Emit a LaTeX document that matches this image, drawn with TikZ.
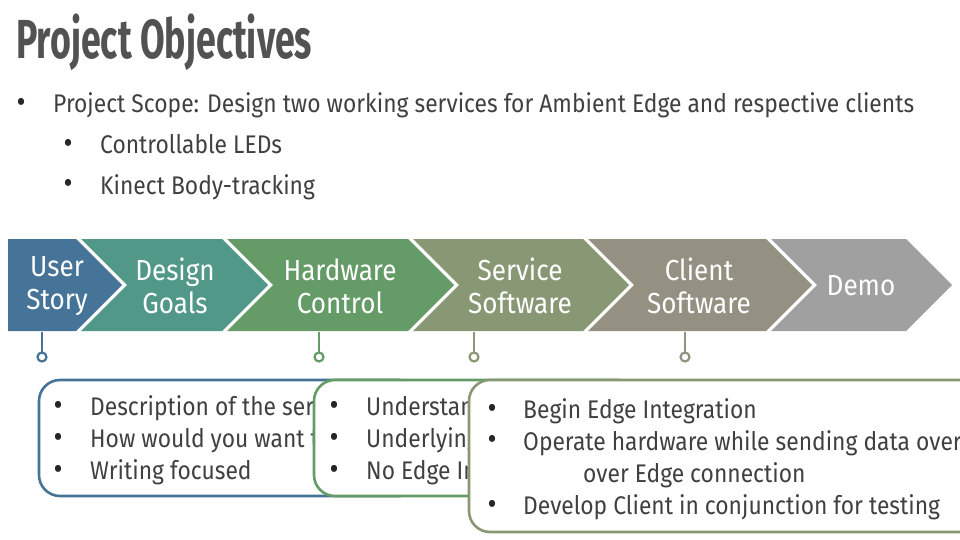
\documentclass[tikz,border=0pt]{standalone}
\usepackage{fontspec}
\setmainfont{Fira Sans}
\newfontfamily\bodyfont[FakeStretch=0.895]{Fira Sans}
\newfontfamily\labelfont[FakeStretch=0.90]{Fira Sans}
\newfontfamily\headfont[FakeStretch=0.65]{Fira Sans}

\definecolor{titlegray}{RGB}{82,82,82}
\definecolor{bodygray}{RGB}{64,64,64}
\definecolor{cUser}{RGB}{70,115,152}
\definecolor{cDesign}{RGB}{82,152,136}
\definecolor{cHard}{RGB}{100,155,102}
\definecolor{cServ}{RGB}{136,152,116}
\definecolor{cClient}{RGB}{148,144,130}
\definecolor{cDemo}{RGB}{160,160,160}

\tikzset{
  txt/.style={anchor=base west, inner sep=0pt, text=bodygray,
    font=\bodyfont\fontsize{25.5}{25.5}\selectfont},
  dot/.style={anchor=center, inner sep=0pt, text=black!85,
    font=\bodyfont\fontsize{31}{31}\selectfont},
  steplabel/.style={align=center, inner sep=0pt, text=white,
    font=\labelfont\fontsize{29}{33}\selectfont},
  stem/.style={line width=2.4pt},
  pin/.style={line width=2.2pt, fill=white},
  infobox/.style={rounded corners=21pt, line width=2.6pt, fill=white},
}

\begin{document}
\begin{tikzpicture}[x=1pt,y=-1pt]
\useasboundingbox (0,0) rectangle (960,540);
\clip (0,0) rectangle (960,540);
\fill[white] (0,0) rectangle (960,540);

% heading
\node[anchor=base west, inner sep=0pt, text=titlegray,
  font=\headfont\bfseries\fontsize{55}{55}\selectfont] (title) at (16,59) {Project Objectives};

% scope bullets
\node[dot] (d1) at (21,105) {•};
\node[txt] (s1) at (53,113) {Project Scope: Design two working services for Ambient Edge and respective clients};
\node[dot] (d2) at (68,146) {•};
\node[txt] (s2) at (100,154) {Controllable LEDs};
\node[dot] (d3) at (68,186) {•};
\node[txt] (s3) at (100,194) {Kinect Body-tracking};

% process chevrons (top 239, bottom 331, tip depth 46)
\fill[cUser]   (8,239) -- (76,239) -- (122,285) -- (76,331) -- (8,331) -- cycle;
\fill[cDesign] (81,239) -- (222,239) -- (268,285) -- (222,331) -- (81,331) -- (127,285) -- cycle;
\fill[cHard]   (227,239) -- (408,239) -- (454,285) -- (408,331) -- (227,331) -- (273,285) -- cycle;
\fill[cServ]   (413,239) -- (583,239) -- (629,285) -- (583,331) -- (413,331) -- (459,285) -- cycle;
\fill[cClient] (588,239) -- (766,239) -- (812,285) -- (766,331) -- (588,331) -- (634,285) -- cycle;
\fill[cDemo]   (771,239) -- (906,239) -- (952,285) -- (906,331) -- (771,331) -- (817,285) -- cycle;

\node[steplabel] (us) at (57,286) {User\\Story};
\node[steplabel] (dg) at (175,286) {Design\\Goals};
\node[steplabel] (hc) at (340,286) {Hardware\\Control};
\node[steplabel] (ss) at (520,286) {Service\\Software};
\node[steplabel] (cs) at (699,286) {Client\\Software};
\node[steplabel] (dm) at (861,286) {Demo};

% pins under the chevrons
\coordinate (p1) at (42,357);
\coordinate (p2) at (319,357);
\coordinate (p3) at (474,357);
\coordinate (p4) at (685,357);
\draw[stem, cUser]   (42,332) -- (p1);
\draw[stem, cHard]   (319,332) -- (p2);
\draw[stem, cServ]   (474,332) -- (p3);
\draw[stem, cClient] (685,332) -- (p4);
\draw[pin, draw=cUser]   (p1) circle (4.5pt);
\draw[pin, draw=cHard]   (p2) circle (4.5pt);
\draw[pin, draw=cServ]   (p3) circle (4.5pt);
\draw[pin, draw=cClient] (p4) circle (4.5pt);

% detail boxes, each laid over the previous one
\draw[infobox, draw=cUser] (39,380) rectangle (420,496);
\node[dot] (a1) at (58,408) {•};
\node[txt] (t1) at (90,415) {Description of the ser};
\node[dot] (a2) at (58,440) {•};
\node[txt] (t2) at (90,447) {How would you want t};
\node[dot] (a3) at (58,472) {•};
\node[txt] (t3) at (90,479) {Writing focused};

\draw[infobox, draw=cHard] (314,380) rectangle (640,496);
\node[dot] (b1) at (334,408) {•};
\node[txt] (u1) at (366,415) {Understand};
\node[dot] (b2) at (334,440) {•};
\node[txt] (u2) at (366,447) {Underlying};
\node[dot] (b3) at (334,472) {•};
\node[txt] (u3) at (366,479) {No Edge In};

\draw[infobox, draw=cServ] (469,380) rectangle (1000,532);
\node[dot] (c1) at (492,411) {•};
\node[txt] (v1) at (523,418) {Begin Edge Integration};
\node[dot] (c2) at (492,442) {•};
\node[txt] (v2) at (523,450) {Operate hardware while sending data over};
\node[txt] (v2b) at (583,482) {over Edge connection};
\node[dot] (c3) at (492,507) {•};
\node[txt] (v3) at (523,514) {Develop Client in conjunction for testing};
\end{tikzpicture}
\end{document}
